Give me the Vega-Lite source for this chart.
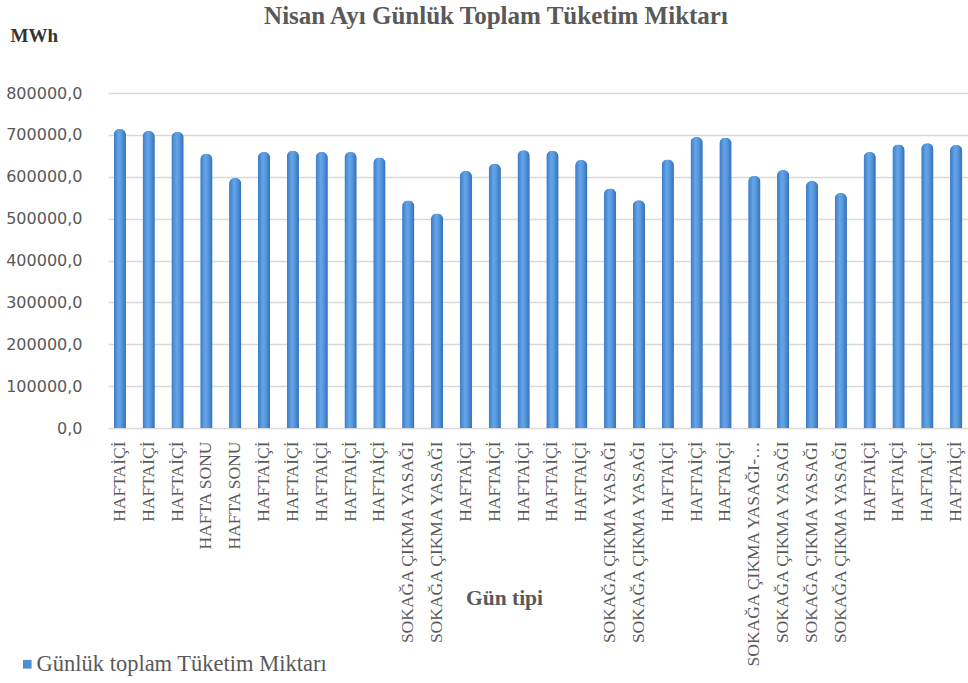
{
  "$schema": "https://vega.github.io/schema/vega-lite/v6.json",
  "autosize": "none",
  "width": 860,
  "height": 335,
  "padding": {"left": 108, "top": 93, "right": 0, "bottom": 255},
  "background": "white",
  "title": {
    "text": "Nisan Ayı Günlük Toplam Tüketim Miktarı",
    "font": "Liberation Serif",
    "fontSize": 25,
    "fontWeight": "bold",
    "color": "#595959",
    "anchor": "middle",
    "dx": -42,
    "dy": 7
  },
  "config": {
    "view": {"stroke": null},
    "legend": {"labelFont": "Liberation Serif", "labelFontSize": 22.5, "labelColor": "#595959", "labelLimit": 500}
  },
  "data": {
    "values": [
      {"gun": "01|HAFTAİÇİ", "mwh": 714000},
      {"gun": "02|HAFTAİÇİ", "mwh": 709000},
      {"gun": "03|HAFTAİÇİ", "mwh": 707000},
      {"gun": "04|HAFTA SONU", "mwh": 655000},
      {"gun": "05|HAFTA SONU", "mwh": 597000},
      {"gun": "06|HAFTAİÇİ", "mwh": 659000},
      {"gun": "07|HAFTAİÇİ", "mwh": 662000},
      {"gun": "08|HAFTAİÇİ", "mwh": 659000},
      {"gun": "09|HAFTAİÇİ", "mwh": 659000},
      {"gun": "10|HAFTAİÇİ", "mwh": 646000},
      {"gun": "11|SOKAĞA ÇIKMA YASAĞI", "mwh": 543000},
      {"gun": "12|SOKAĞA ÇIKMA YASAĞI", "mwh": 512000},
      {"gun": "13|HAFTAİÇİ", "mwh": 614000},
      {"gun": "14|HAFTAİÇİ", "mwh": 631000},
      {"gun": "15|HAFTAİÇİ", "mwh": 663000},
      {"gun": "16|HAFTAİÇİ", "mwh": 662000},
      {"gun": "17|HAFTAİÇİ", "mwh": 640000},
      {"gun": "18|SOKAĞA ÇIKMA YASAĞI", "mwh": 572000},
      {"gun": "19|SOKAĞA ÇIKMA YASAĞI", "mwh": 544000},
      {"gun": "20|HAFTAİÇİ", "mwh": 641000},
      {"gun": "21|HAFTAİÇİ", "mwh": 695000},
      {"gun": "22|HAFTAİÇİ", "mwh": 693000},
      {"gun": "23|SOKAĞA ÇIKMA YASAĞI-RESMİ TATİL", "mwh": 602000},
      {"gun": "24|SOKAĞA ÇIKMA YASAĞI", "mwh": 616000},
      {"gun": "25|SOKAĞA ÇIKMA YASAĞI", "mwh": 590000},
      {"gun": "26|SOKAĞA ÇIKMA YASAĞI", "mwh": 561000},
      {"gun": "27|HAFTAİÇİ", "mwh": 659000},
      {"gun": "28|HAFTAİÇİ", "mwh": 677000},
      {"gun": "29|HAFTAİÇİ", "mwh": 680000},
      {"gun": "30|HAFTAİÇİ", "mwh": 676000}
    ]
  },
  "encoding": {
    "x": {
      "field": "gun",
      "type": "ordinal",
      "sort": null,
      "scale": {"paddingInner": 0.58, "paddingOuter": 0.2},
      "axis": {
        "title": "Gün tipi",
        "domain": false,
        "ticks": false,
        "labelExpr": "split(datum.value, '|')[1]",
        "labelAngle": -90,
        "labelFont": "Liberation Serif",
        "labelFontSize": 17.5,
        "labelColor": "#595959",
        "labelPadding": 13,
        "labelLimit": 236,
        "labelOverlap": false,
        "titleFont": "Liberation Serif",
        "titleFontSize": 21.5,
        "titleFontWeight": "bold",
        "titleColor": "#595959",
        "titleX": 396,
        "titleY": 170,
        "titleAlign": "center",
        "titleBaseline": "middle"
      }
    },
    "y": {
      "field": "mwh",
      "type": "quantitative",
      "scale": {"domain": [0, 800000]},
      "axis": {
        "title": "MWh",
        "titleAngle": 0,
        "titleAlign": "left",
        "titleBaseline": "middle",
        "titleX": -98,
        "titleY": -58,
        "titleFont": "Liberation Serif",
        "titleFontSize": 19,
        "titleFontWeight": "bold",
        "titleColor": "#333333",
        "domain": false,
        "ticks": false,
        "values": [0, 100000, 200000, 300000, 400000, 500000, 600000, 700000, 800000],
        "labelExpr": "replace(format(datum.value, '.1f'), '.', ',')",
        "labelFont": "DejaVu Sans",
        "labelFontSize": 16,
        "labelColor": "#595959",
        "labelPadding": 26,
        "grid": true,
        "gridColor": "#d9d9d9",
        "gridWidth": 1.3
      }
    }
  },
  "layer": [
    {
      "mark": {"type": "bar", "cornerRadiusTopLeft": 6, "cornerRadiusTopRight": 6},
      "encoding": {
        "color": {
          "datum": "Günlük toplam Tüketim Miktarı",
          "type": "nominal",
          "scale": {"range": ["#4a8fd8"]},
          "legend": {
            "orient": "none",
            "legendX": -92,
            "legendY": 560,
            "title": null,
            "symbolType": "square",
            "symbolSize": 75,
            "symbolStrokeWidth": 0,
            "labelFont": "Liberation Serif",
            "labelFontSize": 22.5,
            "labelColor": "#595959",
            "labelLimit": 500,
            "labelOffset": -2
          }
        }
      }
    },
    {
      "mark": {
        "type": "bar",
        "cornerRadiusTopLeft": 6,
        "cornerRadiusTopRight": 6,
        "color": {
          "gradient": "linear",
          "x1": 0, "y1": 0, "x2": 1, "y2": 0,
          "stops": [
            {"offset": 0, "color": "#3a7bc3"},
            {"offset": 0.4, "color": "#64a5e9"},
            {"offset": 0.6, "color": "#5a9be0"},
            {"offset": 1, "color": "#3570b5"}
          ]
        }
      }
    }
  ]
}
